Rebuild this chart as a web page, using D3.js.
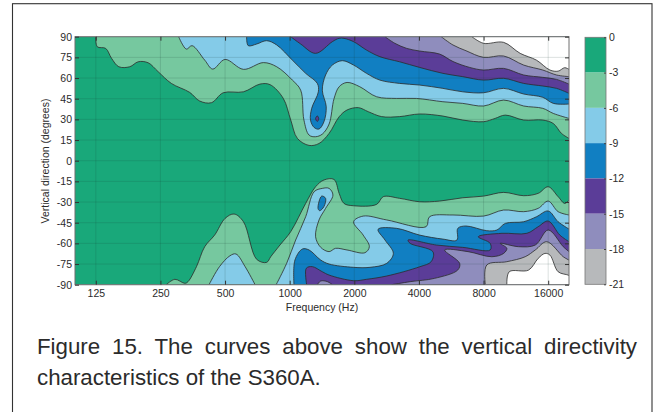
<!DOCTYPE html>
<html>
<head>
<meta charset="utf-8">
<script src="https://cdn.jsdelivr.net/npm/d3@7"></script>
<style>
  html, body { margin: 0; padding: 0; background: #fff; }
  svg { display: block; }
  text { font-family: "Liberation Sans", Arial, sans-serif; fill: #2b2b2b; }
  .axis path { display: none; }
</style>
</head>
<body>
<svg id="chart" width="658" height="412"></svg>
<script>
// attenuation levels (dB) and frequency ticks
const levels = [0, -3, -6, -9, -12, -15, -18, -21];
const freqTicks = [125, 250, 500, 1000, 2000, 4000, 8000, 16000];
const degTicks = [90, 75, 60, 45, 30, 15, 0, -15, -30, -45, -60, -75, -90];
const bandColors = ["#19a87a", "#76c89f", "#84cbe8", "#117fc2", "#5b3d98", "#8f8dbd", "#b7b9bb"];

// contours as [Hz, degrees], upper half
const top3 = [[125,90],[127,82.7],[139,81.5],[148,74.3],[160,68.2],[180,68.2],[197,71.8],[219,71.1],[244,64.6],[281,56.1],[342,49.6],[381,43.3],[432,42.1],[490,49.3],[609,50],[727,55.6],[810,55.2],[933,45.3],[1011,29.6],[1086,16.2],[1231,11.1],[1370,12.5],[1526,19.8],[1700,31.9],[1850,36.8],[2090,38.5],[2320,35.6],[2680,32],[3250,32],[4030,33.9],[5170,32.4],[6400,29.5],[8000,28.3],[9060,30.7],[10100,33.1],[12300,29.5],[15100,29.5],[16900,27],[18450,19.8],[20000,16.2]];
const top6 = [[304,90],[330,81],[351,83.5],[402,73],[438,66.5],[500,73.5],[609,66.3],[754,71.2],[870,68.2],[1029,58.5],[1125,51.2],[1165,29.5],[1231,18.6],[1320,17.4],[1419,19.3],[1526,26.6],[1609,45],[1700,53.7],[1850,56.8],[2120,53.7],[2540,46.4],[3150,45.2],[3890,45.2],[5170,42.8],[6400,41.6],[8000,39.7],[9920,44],[12300,39.7],[15100,38],[16900,34.3],[20000,30.7]];
const top9 = [[630,90],[641,83.5],[702,84.7],[781,87.1],[870,84],[1029,73],[1187,63.4],[1345,56.1],[1360,50],[1266,38],[1250,29.5],[1300,24.1],[1370,23],[1444,28.3],[1480,39.2],[1419,51.2],[1470,62.2],[1580,69.4],[1758,72.6],[1985,69.4],[2280,63.4],[2630,58.5],[3250,56.1],[4030,54.9],[5170,52.5],[6400,50],[8000,49.3],[9920,52.5],[12300,48.4],[15100,46],[16900,41.6],[20000,41.1]];
const top12 = [[1011,90],[1125,84.7],[1320,77.9],[1580,86.4],[1697,88.8],[1790,88.8],[1985,86.4],[2280,80.3],[2630,75.5],[3250,71.8],[4030,67.7],[5170,63.4],[6400,61],[8000,58.5],[9920,59.8],[12300,56.1],[15100,54.2],[17500,52.5],[20000,48.9]];
const top15 = [[2780,90],[3090,85.2],[3510,81.5],[4030,79.6],[4990,77.4],[5760,72],[6890,67.7],[8000,65.8],[9920,67],[12300,62.2],[15100,60.5],[17500,59],[20000,55.6]];
const top18 = [[5080,90],[5760,84],[6630,79.8],[8000,75],[9920,76],[12300,69.4],[15100,65.8],[17500,62.2],[20000,61]];
const top21 = [[7060,90],[8000,85.2],[9920,85.9],[11850,77.9],[14100,73],[16300,65.8],[17800,65],[19100,67.5],[20000,66.3]];

// lower half
const bot3 = [[266,-90],[292,-86.1],[325,-89],[336,-87.8],[368,-76.9],[402,-62.4],[447,-54],[500,-41.9],[551,-38.7],[609,-44.3],[702,-71.6],[781,-73.8],[816,-69.7],[901,-61.2],[1011,-51.5],[1187,-31],[1320,-18.9],[1444,-14],[1609,-13.6],[1700,-23.7],[1790,-31],[1985,-32.7],[2540,-31.7],[2730,-26.1],[3250,-27.3],[4030,-29.8],[4990,-29.3],[6400,-26.9],[8000,-25.7],[9920,-23],[12300,-25.4],[14370,-23.7],[16000,-18.9],[17800,-26.1],[19100,-31],[20000,-28.6]];
const bot6Low = [[421,-90],[471,-76.9],[527,-69],[562,-67.7],[620,-76.9],[690,-90]];
const bot6 = [[865,-90],[968,-74.5],[1066,-57.6],[1187,-40.7],[1300,-22.5],[1419,-20.1],[1526,-20.1],[1590,-24.9],[1470,-34.6],[1370,-43],[1320,-55.2],[1395,-62.9],[1526,-66],[1636,-63.6],[1850,-64.8],[2240,-66.8],[2350,-62.4],[2200,-54],[1985,-44.3],[2200,-40.2],[2830,-43],[4320,-47.9],[4480,-40.7],[5760,-39.4],[8000,-40.2],[9920,-35.8],[12300,-37],[14370,-34.6],[16000,-29.3],[17800,-37],[20000,-39.4]];
const bot9 = [[1047,-90],[1058,-72.1],[1146,-64.1],[1231,-64.8],[1395,-72.1],[1526,-75],[1985,-77.4],[2366,-77.4],[2830,-74.5],[3040,-67.3],[2780,-57.6],[2580,-49.8],[3150,-49.1],[4030,-54],[5170,-56.9],[6010,-57.6],[6070,-49.1],[6630,-47.4],[8280,-50.8],[9230,-50.3],[10100,-45.5],[12300,-44.3],[14100,-40.7],[16000,-36.5],[17800,-44.3],[20000,-49.6]];
const bot9Spot = [[1355,-34.6],[1409,-25.7],[1470,-27.3],[1444,-33.3],[1380,-36.3]];
const bot12 = [[1200,-90],[1195,-78.1],[1275,-76.9],[1419,-80.6],[1526,-83],[1985,-87.1],[2280,-86.1],[2830,-83.7],[4030,-77],[4560,-73.3],[4650,-66.1],[3640,-60],[3560,-57.6],[4820,-61.2],[6400,-62.9],[8590,-64.8],[8590,-60],[7560,-55.2],[9740,-52.7],[12730,-52.7],[14370,-47.9],[16000,-43.8],[18130,-54],[20000,-58.8]];
const bot15Low = [[1345,-90],[1395,-87.3],[1500,-87.8],[1580,-90]];
const bot15 = [[2980,-90],[3640,-87.8],[4730,-85.4],[6060,-79.4],[6190,-74.5],[5270,-64.8],[6770,-66],[8740,-69.7],[9920,-67.3],[10270,-63.6],[9570,-60],[11630,-62.4],[13930,-61.2],[16000,-50.3],[18800,-62.4],[20000,-66]];
const bot18 = [[8150,-90],[8280,-75.7],[10270,-73.3],[12500,-69.7],[13930,-64.8],[15750,-58.8],[18800,-69.7],[20000,-72.1]];
const bot21 = [[10270,-90],[10540,-80.6],[12960,-79.4],[14370,-70.9],[15450,-67.3],[16300,-68.5],[17800,-80.6],[19800,-83],[20000,-83.5]];

// spot of -12 dB at the bottom of the upper pocket
const top12Spot = [[1320,30.5],[1345,32.5],[1365,30.5],[1345,28.5]];

const svg = d3.select("#chart");

// page frame, runs off the bottom of the picture
svg.append("rect")
  .attr("x", 12.5).attr("y", 3.7)
  .attr("width", 639.5).attr("height", 430)
  .attr("fill", "none").attr("stroke", "#333").attr("stroke-width", 1.1);

const plot = { left: 75, right: 569, top: 36.7, bottom: 284.7 };

const x = d3.scaleLog().base(2).domain([100, 20000]).range([plot.left, plot.right]);
const y = d3.scaleLinear().domain([-90, 90]).range([plot.bottom, plot.top]);

const defs = svg.append("defs");
defs.append("clipPath").attr("id", "plot-clip")
  .append("rect")
  .attr("x", plot.left).attr("y", plot.top)
  .attr("width", plot.right - plot.left).attr("height", plot.bottom - plot.top);

const chart = svg.append("g").attr("clip-path", "url(#plot-clip)");

chart.append("rect")
  .attr("x", plot.left).attr("y", plot.top)
  .attr("width", plot.right - plot.left).attr("height", plot.bottom - plot.top)
  .attr("fill", bandColors[0]);

const contour = d3.line()
  .x(d => x(d[0]))
  .y(d => y(d[1]))
  .curve(d3.curveCatmullRom.alpha(0.5));

const ring = d3.line()
  .x(d => x(d[0]))
  .y(d => y(d[1]))
  .curve(d3.curveCatmullRomClosed.alpha(0.5));

// fill from the contour out to the top or bottom edge, then stroke the contour only
function drawBand(points, color, edge) {
  const first = points[0], last = points[points.length - 1];
  chart.append("path")
    .attr("d", contour(points) + `L${x(last[0])},${y(edge)}L${x(first[0])},${y(edge)}Z`)
    .attr("fill", color);
  chart.append("path")
    .attr("d", contour(points))
    .attr("fill", "none")
    .attr("stroke", "#2c2c2c")
    .attr("stroke-width", 0.8);
}

function drawSpot(points, color) {
  chart.append("path")
    .attr("d", ring(points))
    .attr("fill", color)
    .attr("stroke", "#2c2c2c")
    .attr("stroke-width", 0.8);
}

drawBand(top3, bandColors[1], 90);
drawBand(top6, bandColors[2], 90);
drawBand(top9, bandColors[3], 90);
drawSpot(top12Spot, bandColors[4]);
drawBand(top12, bandColors[4], 90);
drawBand(top15, bandColors[5], 90);
drawBand(top18, bandColors[6], 90);
drawBand(top21, "#ffffff", 90);

drawBand(bot3, bandColors[1], -90);
drawBand(bot6Low, bandColors[2], -90);
drawBand(bot6, bandColors[2], -90);
drawSpot(bot9Spot, bandColors[3]);
drawBand(bot9, bandColors[3], -90);
drawBand(bot12, bandColors[4], -90);
drawBand(bot15Low, bandColors[5], -90);
drawBand(bot15, bandColors[5], -90);
drawBand(bot18, bandColors[6], -90);
drawBand(bot21, "#ffffff", -90);

// grid drawn over the fills
const grid = svg.append("g").attr("stroke", "#1d3a33").attr("stroke-opacity", 0.22).attr("stroke-width", 0.7);
grid.selectAll("line.v").data(freqTicks).join("line")
  .attr("class", "v")
  .attr("x1", d => x(d)).attr("x2", d => x(d))
  .attr("y1", plot.top).attr("y2", plot.bottom);
grid.selectAll("line.h").data(degTicks).join("line")
  .attr("class", "h")
  .attr("x1", plot.left).attr("x2", plot.right)
  .attr("y1", d => y(d)).attr("y2", d => y(d));

// plot border
svg.append("rect")
  .attr("x", plot.left).attr("y", plot.top)
  .attr("width", plot.right - plot.left).attr("height", plot.bottom - plot.top)
  .attr("fill", "none").attr("stroke", "#6e6e6e").attr("stroke-width", 1);

const xAxis = svg.append("g")
  .attr("class", "axis")
  .attr("transform", `translate(0,${plot.bottom})`)
  .call(d3.axisBottom(x).tickValues(freqTicks).tickFormat(d3.format("d")).tickSize(-4).tickPadding(5));
xAxis.selectAll("text").attr("font-size", 10.5);
xAxis.selectAll("line").attr("stroke", "#333");

const yAxis = svg.append("g")
  .attr("class", "axis")
  .attr("transform", `translate(${plot.left},0)`)
  .call(d3.axisLeft(y).tickValues(degTicks).tickFormat(d => String(d)).tickSize(-4).tickPadding(3));
yAxis.selectAll("text").attr("font-size", 10.5);
yAxis.selectAll("line").attr("stroke", "#333");

// mirrored ticks on the top and right of the box
const xAxisTop = svg.append("g")
  .attr("class", "axis")
  .attr("transform", `translate(0,${plot.top})`)
  .call(d3.axisTop(x).tickValues(freqTicks).tickFormat("").tickSize(-4));
xAxisTop.selectAll("line").attr("stroke", "#333");
const yAxisRight = svg.append("g")
  .attr("class", "axis")
  .attr("transform", `translate(${plot.right},0)`)
  .call(d3.axisRight(y).tickValues(degTicks).tickFormat("").tickSize(-4));
yAxisRight.selectAll("line").attr("stroke", "#333");

svg.append("text")
  .attr("x", (plot.left + plot.right) / 2)
  .attr("y", 311)
  .attr("text-anchor", "middle")
  .attr("font-size", 10.5)
  .text("Frequency (Hz)");

svg.append("text")
  .attr("transform", `translate(49,161) rotate(-90)`)
  .attr("text-anchor", "middle")
  .attr("font-size", 10.5)
  .text("Vertical direction (degrees)");

// colour bar
const bar = { left: 585, right: 606, top: 37.3, bottom: 284.3 };
const barScale = d3.scaleLinear().domain([0, -21]).range([bar.top, bar.bottom]);

svg.selectAll("rect.band")
  .data(d3.pairs(levels))
  .join("rect")
  .attr("class", "band")
  .attr("x", bar.left)
  .attr("width", bar.right - bar.left)
  .attr("y", d => barScale(d[0]))
  .attr("height", d => barScale(d[1]) - barScale(d[0]))
  .attr("fill", (d, i) => bandColors[i]);

svg.append("rect")
  .attr("x", bar.left).attr("y", bar.top)
  .attr("width", bar.right - bar.left).attr("height", bar.bottom - bar.top)
  .attr("fill", "none").attr("stroke", "#777").attr("stroke-width", 0.8);

const barAxis = svg.append("g")
  .attr("class", "axis")
  .attr("transform", `translate(${bar.right},0)`)
  .call(d3.axisRight(barScale).tickValues(levels).tickFormat(d => String(d)).tickSize(-2).tickPadding(3));
barAxis.selectAll("text").attr("font-size", 10.5);
barAxis.selectAll("line").attr("stroke", "#444");

// caption, first line is justified
const caption = svg.append("g").attr("font-size", 22.3);
const line1 = caption.append("text")
  .attr("x", 37).attr("y", 354)
  .text("Figure 15. The curves above show the vertical directivity");
const gap = (637 - 37 - line1.node().getComputedTextLength()) / 8;
line1.attr("word-spacing", gap);
caption.append("text")
  .attr("x", 37).attr("y", 385)
  .text("characteristics of the S360A.");
</script>
</body>
</html>
